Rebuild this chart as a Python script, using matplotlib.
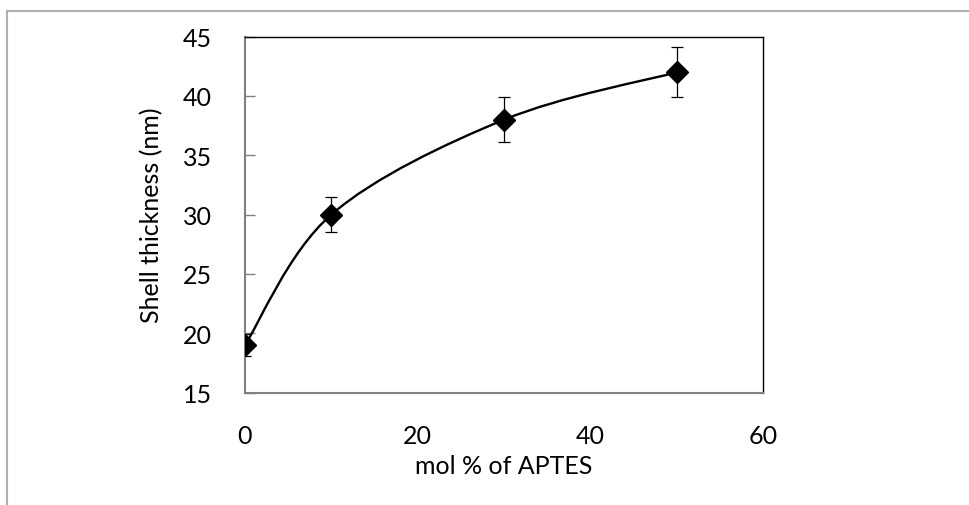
import numpy as np
import matplotlib
matplotlib.use("Agg")
import matplotlib.pyplot as plt
from matplotlib.path import Path
from matplotlib.patches import PathPatch
from matplotlib.lines import Line2D

plt.rcParams['font.family'] = ['Lato', 'DejaVu Sans']

mol_aptes = [0, 10, 30, 50]
thickness = [19.0, 30.0, 38.0, 42.0]
errors = [0.9, 1.5, 1.9, 2.1]
x_ticks = [0, 20, 40, 60]
y_ticks = [15, 20, 25, 30, 35, 40, 45]

fig = plt.figure(figsize=(9.7, 5.06), dpi=100)
ax = fig.add_axes([245/970, 1-393.5/506, (763-245)/970, (393.5-37.7)/506])

# Excel-style smoothed line (Catmull-Rom Bezier)
pts = np.column_stack([mol_aptes, thickness]).astype(float)
n = len(pts)
verts = [tuple(pts[0])]
codes = [Path.MOVETO]
for i in range(n - 1):
    p0 = pts[i - 1] if i > 0 else pts[i]
    p1 = pts[i]
    p2 = pts[i + 1]
    p3 = pts[i + 2] if i + 2 < n else pts[i + 1]
    c1 = p1 + (p2 - p0) / 6.0
    c2 = p2 - (p3 - p1) / 6.0
    verts += [tuple(c1), tuple(c2), tuple(p2)]
    codes += [Path.CURVE4] * 3
ax.add_patch(PathPatch(Path(verts, codes), facecolor='none', edgecolor='black', lw=1.7, zorder=2))

ax.errorbar(mol_aptes, thickness, yerr=errors, fmt='none', ecolor='black',
            elinewidth=0.9, capsize=4, capthick=0.9, zorder=3)
ax.plot(mol_aptes, thickness, linestyle='none', marker='D', markersize=11,
        color='black', zorder=4)

ax.set_xlim(0, 60)
ax.set_ylim(15, 45)
ax.set_xticks(x_ticks)
ax.set_yticks(y_ticks)
ax.tick_params(axis='x', length=0, pad=23, labelsize=18)
ax.tick_params(axis='y', direction='in', length=7, width=1, color='#808080', pad=24, labelsize=18)

for s in ['left', 'bottom']:
    ax.spines[s].set_color('#808080')
    ax.spines[s].set_linewidth(1.5)
for s in ['top', 'right']:
    ax.spines[s].set_color('black')
    ax.spines[s].set_linewidth(1.0)

ax.set_xlabel('mol % of APTES', fontsize=18, labelpad=5)
ax.set_ylabel('Shell thickness (nm)', fontsize=18, labelpad=14)

# outer chart frame
fig.add_artist(Line2D([7.5/970, 7.5/970], [0, 1-12/506], color='#b0b0b0', lw=1.5))
fig.add_artist(Line2D([7.5/970, 1], [1-12/506, 1-12/506], color='#b0b0b0', lw=1.5))

fig.savefig('out.png', dpi=100)
